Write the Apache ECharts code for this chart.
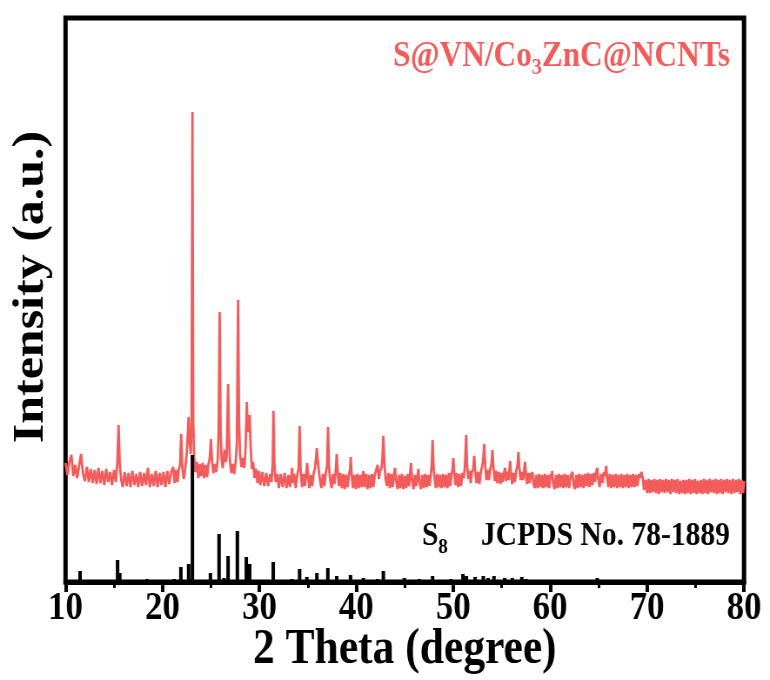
<!DOCTYPE html>
<html>
<head>
<meta charset="utf-8">
<script src="https://cdn.jsdelivr.net/npm/echarts@6/dist/echarts.min.js"></script>
<style>
  html, body { margin: 0; padding: 0; background: #fff; overflow: hidden; }
  /* the figure is drawn wide and squeezed horizontally to get its narrow, tall lettering */
  #chart { width: 885px; height: 680px; transform: scaleX(0.87); transform-origin: 0 0; }
</style>
</head>
<body>
<div id="chart"></div>
<script>
// 2-theta tick labels along the bottom axis
const xTickLabels = ['10', '20', '30', '40', '50', '60', '70', '80'];

// measured XRD pattern of the sulfur composite: [2theta (deg), intensity (a.u.)]
const samplePattern = [
  [10.0,119],[10.2,107],[10.4,120],[10.6,127],[10.8,106],[11.0,117],[11.2,104],[11.4,116],[11.6,128],[11.8,108],
  [12.0,101],[12.2,115],[12.4,100],[12.6,113],[12.8,99],[13.0,112],[13.2,98],[13.4,114],[13.6,99],[13.8,111],
  [14.0,97],[14.2,113],[14.4,100],[14.6,110],[14.8,97],[15.0,112],[15.2,100],[15.35,120],[15.47,157],[15.6,116],
  [15.75,102],[15.9,95],[16.1,110],[16.3,96],[16.5,109],[16.7,95],[16.9,111],[17.1,97],[17.3,108],[17.5,95],
  [17.7,110],[17.9,96],[18.1,109],[18.3,97],[18.5,114],[18.7,95],[18.9,108],[19.1,96],[19.3,111],[19.5,95],
  [19.7,109],[19.9,97],[20.1,110],[20.3,95],[20.5,111],[20.7,98],[20.9,110],[21.1,115],[21.25,99],[21.4,112],
  [21.55,100],[21.7,113],[21.82,118],[21.93,148],[22.05,114],[22.2,103],[22.35,114],[22.5,128],[22.62,150],[22.7,165],
  [22.8,140],[22.92,128],[23.0,155],[23.09,470],[23.18,160],[23.28,122],[23.4,110],[23.55,120],[23.7,104],[23.85,118],
  [24.0,106],[24.15,119],[24.3,104],[24.45,117],[24.6,105],[24.75,118],[24.88,124],[25.0,143],[25.12,120],[25.25,109],
  [25.4,118],[25.55,110],[25.7,122],[25.8,150],[25.9,270],[26.0,150],[26.1,122],[26.22,114],[26.32,124],[26.4,132],
  [26.5,120],[26.62,125],[26.7,160],[26.77,198],[26.85,150],[26.95,122],[27.1,109],[27.25,118],[27.4,108],[27.55,120],
  [27.68,140],[27.8,282],[27.9,160],[28.0,128],[28.15,115],[28.3,124],[28.45,114],[28.58,135],[28.7,180],[28.8,150],
  [28.88,155],[29.0,167],[29.1,135],[29.22,113],[29.35,120],[29.5,104],[29.65,113],[29.8,99],[29.95,111],[30.1,97],
  [30.3,110],[30.5,96],[30.7,109],[30.9,96],[31.1,108],[31.25,100],[31.37,118],[31.45,171],[31.55,118],[31.68,100],
  [31.85,108],[32.0,94],[32.2,108],[32.4,95],[32.6,109],[32.8,94],[33.0,107],[33.15,95],[33.3,107],[33.37,114],
  [33.45,99],[33.6,108],[33.75,94],[33.9,107],[34.05,114],[34.15,156],[34.25,112],[34.4,95],[34.55,108],[34.7,96],
  [34.85,111],[34.93,119],[35.02,106],[35.15,94],[35.3,107],[35.45,96],[35.6,109],[35.72,113],[35.85,125],[35.92,134],
  [36.0,124],[36.12,112],[36.25,102],[36.4,94],[36.55,108],[36.7,96],[36.85,109],[36.98,116],[37.08,155],[37.18,115],
  [37.3,102],[37.45,94],[37.6,108],[37.75,98],[37.88,112],[37.98,128],[38.08,110],[38.2,96],[38.35,109],[38.5,94],
  [38.65,108],[38.8,93],[38.95,107],[39.1,95],[39.25,108],[39.35,112],[39.42,125],[39.5,109],[39.65,94],[39.8,107],
  [39.95,93],[40.1,108],[40.25,94],[40.4,107],[40.55,95],[40.65,106],[40.73,111],[40.85,95],[41.0,108],[41.15,93],
  [41.3,107],[41.45,94],[41.6,108],[41.75,95],[41.9,107],[42.05,108],[42.2,117],[42.32,103],[42.45,111],[42.6,114],
  [42.7,125],[42.79,146],[42.9,118],[43.02,103],[43.15,96],[43.3,109],[43.45,94],[43.6,108],[43.75,95],[43.9,109],
  [43.99,114],[44.1,101],[44.25,93],[44.4,107],[44.55,94],[44.7,108],[44.85,93],[45.0,106],[45.15,94],[45.3,108],
  [45.45,96],[45.55,108],[45.64,119],[45.75,103],[45.9,93],[46.05,107],[46.2,96],[46.32,107],[46.4,113],[46.5,101],
  [46.65,93],[46.8,107],[46.95,94],[47.1,108],[47.25,95],[47.4,107],[47.55,96],[47.7,109],[47.78,118],[47.87,142],
  [47.96,116],[48.08,103],[48.2,94],[48.35,108],[48.5,95],[48.65,107],[48.8,94],[48.95,108],[49.1,95],[49.25,107],
  [49.4,94],[49.55,109],[49.7,96],[49.82,108],[49.92,112],[50.0,124],[50.1,110],[50.22,97],[50.35,109],[50.5,95],
  [50.65,108],[50.8,96],[50.95,109],[51.08,104],[51.2,115],[51.33,147],[51.43,117],[51.55,103],[51.68,111],[51.8,99],
  [51.92,110],[52.05,113],[52.16,126],[52.27,110],[52.4,99],[52.55,110],[52.7,98],[52.85,110],[52.98,116],[53.08,121],
  [53.19,138],[53.3,116],[53.42,102],[53.55,112],[53.68,102],[53.82,113],[53.94,118],[54.04,132],[54.14,115],[54.28,101],
  [54.42,111],[54.55,99],[54.7,110],[54.85,98],[55.0,109],[55.12,100],[55.25,110],[55.35,114],[55.47,101],[55.6,110],
  [55.72,102],[55.8,113],[55.86,121],[55.95,110],[56.08,98],[56.2,109],[56.35,100],[56.5,111],[56.62,117],[56.72,130],
  [56.82,114],[56.95,102],[57.1,110],[57.22,102],[57.32,113],[57.4,120],[57.5,108],[57.62,98],[57.75,109],[57.88,99],
  [58.0,109],[58.1,103],[58.16,110],[58.25,100],[58.4,94],[58.55,107],[58.7,94],[58.85,108],[59.0,95],[59.15,107],
  [59.3,94],[59.45,108],[59.6,95],[59.75,107],[59.9,94],[60.05,108],[60.15,104],[60.2,111],[60.3,99],[60.45,93],
  [60.6,107],[60.75,94],[60.9,108],[61.05,95],[61.2,107],[61.35,94],[61.5,108],[61.65,95],[61.8,107],[61.95,94],
  [62.1,106],[62.22,104],[62.3,110],[62.4,98],[62.55,93],[62.7,107],[62.85,94],[63.0,108],[63.15,95],[63.3,107],
  [63.45,94],[63.6,108],[63.75,96],[63.9,109],[64.05,95],[64.2,108],[64.35,97],[64.5,109],[64.62,100],[64.75,110],
  [64.85,114],[64.95,103],[65.1,95],[65.25,108],[65.4,99],[65.55,110],[65.65,106],[65.78,116],[65.88,104],[66.0,95],
  [66.15,108],[66.3,94],[66.45,107],[66.6,95],[66.75,108],[66.9,94],[67.05,107],[67.2,95],[67.35,108],[67.5,94],
  [67.65,107],[67.8,95],[67.95,108],[68.1,94],[68.25,107],[68.4,95],[68.55,108],[68.7,95],[68.85,107],[69.0,96],
  [69.15,108],[69.3,104],[69.4,110],[69.48,112],[69.56,104],[69.68,92],[69.85,102],[70.0,89],[70.15,103],[70.3,89],
  [70.45,102],[70.6,90],[70.75,103],[70.9,89],[71.05,102],[71.2,88],[71.35,103],[71.5,90],[71.65,102],[71.8,89],
  [71.95,103],[72.1,90],[72.25,102],[72.4,88],[72.55,103],[72.7,90],[72.85,102],[73.0,89],[73.15,103],[73.3,88],
  [73.45,101],[73.6,89],[73.75,102],[73.9,88],[74.05,102],[74.2,89],[74.35,103],[74.5,88],[74.65,102],[74.8,89],
  [74.95,103],[75.1,88],[75.25,101],[75.4,89],[75.55,102],[75.7,88],[75.85,103],[76.0,89],[76.15,102],[76.3,88],
  [76.45,103],[76.6,90],[76.75,102],[76.9,89],[77.05,103],[77.2,88],[77.35,102],[77.5,89],[77.65,103],[77.8,88],
  [77.95,102],[78.1,90],[78.25,103],[78.4,89],[78.55,102],[78.7,88],[78.85,103],[79.0,89],[79.15,102],[79.3,90],
  [79.45,103],[79.6,88],[79.75,102],[79.9,89],[80.0,101]
];

// S8 reference lines (JCPDS No. 78-1889): [2theta (deg), relative intensity]
const refSticks = [
  [11.5,11],[15.37,22],[15.6,9],[18.4,3],[21.2,3],[21.9,15],[22.7,18],[23.09,127],[24.95,9],[25.84,48],
  [26.35,4],[26.77,26],[27.73,51],[28.65,25],[29.0,18],[31.43,20],[33.35,3],[34.15,13],[34.9,5],[35.93,9],
  [37.06,14],[37.98,6],[39.4,7],[40.73,4],[42.2,3],[42.79,11],[44.95,4],[46.5,3],[47.87,6],[49.75,3],
  [51.0,8],[51.36,6],[52.26,5],[53.1,6],[53.6,4],[54.2,6],[55.3,4],[56.1,4],[57.07,5],[57.5,3],
  [58.85,2],[61.6,2],[64.85,4],[65.9,2],[69.65,2]
];

const sampleColor = '#f45c5c';
const serif = '"Liberation Serif", "Times New Roman", serif';

const chart = echarts.init(document.getElementById('chart'));
chart.setOption({
  animation: false,
  grid: {
    left: 75.3, right: 29.8, top: 18, bottom: 98,
    outerBoundsMode: 'none', containLabel: false,
    show: true, borderColor: '#000', borderWidth: 5, backgroundColor: 'transparent'
  },
  xAxis: {
    type: 'value', min: 10, max: 80, interval: 10,
    axisLine: { show: true, onZero: false, lineStyle: { color: '#000', width: 5 } },
    axisTick: { show: true, inside: false, length: 10, lineStyle: { color: '#000', width: 4 } },
    minorTick: { show: true, splitNumber: 2, length: 6, lineStyle: { color: '#000', width: 3 } },
    splitLine: { show: false },
    minorSplitLine: { show: false },
    axisLabel: {
      color: '#000', fontFamily: serif, fontWeight: 'bold', fontSize: 40, margin: 7,
      formatter: v => xTickLabels[Math.round((v - 10) / 10)]
    },
    name: '2 Theta (degree)', nameLocation: 'middle', nameGap: 43, nameMoveOverlap: false,
    nameTextStyle: { color: '#000', fontFamily: serif, fontWeight: 'bold', fontSize: 50 }
  },
  yAxis: {
    type: 'value', min: 0, max: 564,
    axisLine: { show: false }, axisTick: { show: false }, axisLabel: { show: false },
    splitLine: { show: false },
    name: 'Intensity (a.u.)', nameLocation: 'middle', nameGap: 14, nameRotate: 90, nameMoveOverlap: false,
    nameTextStyle: { color: '#000', fontFamily: serif, fontWeight: 'bold', fontSize: 50, padding: [0, 0, 0, 26] }
  },
  series: [
    {
      name: 'S@VN/Co3ZnC@NCNTs', type: 'line', data: samplePattern,
      showSymbol: false, symbol: 'none', z: 2,
      lineStyle: { color: sampleColor, width: 2.8 }
    },
    {
      name: 'S8 JCPDS No. 78-1889', type: 'bar', data: refSticks,
      barWidth: 4, z: 3, itemStyle: { color: '#000' }
    }
  ],
  graphic: [
    {
      type: 'text', x: 839, y: 57, z: 10,
      style: {
        text: '{m|S@VN/Co}{s|3}{m|ZnC@NCNTs}',
        align: 'right', verticalAlign: 'middle', fill: sampleColor,
        rich: {
          m: { fill: sampleColor, fontFamily: serif, fontWeight: 'bold', fontSize: 36, lineHeight: 48 },
          s: { fill: sampleColor, fontFamily: serif, fontWeight: 'bold', fontSize: 23, lineHeight: 23,
               verticalAlign: 'top', padding: [24, 0, 0, 0] }
        }
      }
    },
    {
      type: 'text', x: 839, y: 536, z: 10,
      style: {
        text: '{m|S}{s|8}{j|JCPDS No. 78-1889}',
        align: 'right', verticalAlign: 'middle', fill: '#000',
        rich: {
          m: { fill: '#000', fontFamily: serif, fontWeight: 'bold', fontSize: 34, lineHeight: 46 },
          s: { fill: '#000', fontFamily: serif, fontWeight: 'bold', fontSize: 22, lineHeight: 22,
               verticalAlign: 'top', padding: [23, 0, 0, 0] },
          j: { fill: '#000', fontFamily: serif, fontWeight: 'bold', fontSize: 34, lineHeight: 46,
               padding: [0, 0, 0, 38] }
        }
      }
    }
  ]
});
</script>
</body>
</html>
